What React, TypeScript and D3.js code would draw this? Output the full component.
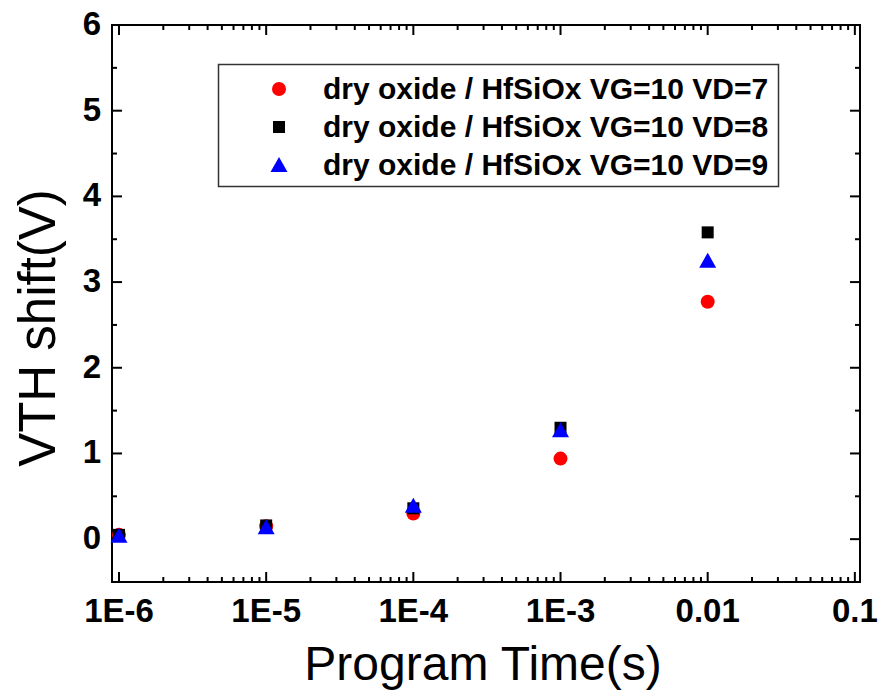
import React from "react";
import * as d3 from "d3";

const times = [1e-6, 1e-5, 1e-4, 1e-3, 1e-2];
const vd7 = [0.05, 0.15, 0.3, 0.94, 2.77];
const vd8 = [0.05, 0.16, 0.36, 1.3, 3.58];
const vd9 = [0.04, 0.14, 0.39, 1.27, 3.25];
const seriesNames = [
  "dry oxide / HfSiOx VG=10 VD=7",
  "dry oxide / HfSiOx VG=10 VD=8",
  "dry oxide / HfSiOx VG=10 VD=9",
];
const xTickValues = [1e-6, 1e-5, 1e-4, 1e-3, 1e-2, 1e-1];
const xTickLabels = ["1E-6", "1E-5", "1E-4", "1E-3", "0.01", "0.1"];
const yTickValues = [0, 1, 2, 3, 4, 5, 6];

const W = 882;
const H = 698;
const L = 112, R = 860, T = 25, B = 582;

export default function App() {
  const x = d3.scaleLog().domain([Math.pow(10, -6.0476), Math.pow(10, -0.965)]).range([L, R]);
  const y = d3.scaleLinear().domain([-0.5, 6]).range([B, T]);

  const minorX: number[] = [];
  for (let e = -7; e <= 0; e++) {
    for (let m = 2; m <= 9; m++) {
      const v = m * Math.pow(10, e);
      if (x(v) > L + 0.5 && x(v) < R - 0.5) minorX.push(v);
    }
  }
  const minorY: number[] = [];
  for (let v = -0.5; v <= 6; v += 1) minorY.push(v);

  const font = "'Liberation Sans', Arial, sans-serif";
  const series = [
    { data: vd7, color: "#ff0000", shape: "circle" },
    { data: vd8, color: "#000000", shape: "square" },
    { data: vd9, color: "#0000ff", shape: "triangle" },
  ];

  const marker = (shape: string, color: string, cx: number, cy: number, key: string) => {
    if (shape === "circle") return <circle key={key} cx={cx} cy={cy} r={7} fill={color} />;
    if (shape === "square") return <rect key={key} x={cx - 6} y={cy - 6} width={12} height={12} fill={color} />;
    const d = `M${cx},${cy - 8}L${cx + 8.5},${cy + 7}L${cx - 8.5},${cy + 7}Z`;
    return <path key={key} d={d} fill={color} />;
  };

  const legendY = [89, 127, 165];

  return (
    <svg width={W} height={H} style={{ position: "absolute", left: 0, top: 0, background: "#fff" }}>
      {/* frame */}
      <rect x={L} y={T} width={R - L} height={B - T} fill="none" stroke="#000" strokeWidth={2} />
      {/* x ticks */}
      {xTickValues.map((v) => (
        <g key={"xt" + v}>
          <line x1={x(v)} x2={x(v)} y1={B} y2={B - 10} stroke="#000" strokeWidth={2} />
          <line x1={x(v)} x2={x(v)} y1={T} y2={T + 10} stroke="#000" strokeWidth={2} />
        </g>
      ))}
      {minorX.map((v, i) => (
        <g key={"xm" + i}>
          <line x1={x(v)} x2={x(v)} y1={B} y2={B - 5} stroke="#000" strokeWidth={2} />
          <line x1={x(v)} x2={x(v)} y1={T} y2={T + 5} stroke="#000" strokeWidth={2} />
        </g>
      ))}
      {xTickValues.map((v, i) => (
        <text key={"xl" + v} x={x(v)} y={622} textAnchor="middle" fontFamily={font} fontWeight="bold" fontSize={33}>
          {xTickLabels[i]}
        </text>
      ))}
      {/* y ticks */}
      {yTickValues.map((v) => (
        <g key={"yt" + v}>
          <line x1={L} x2={L + 10} y1={y(v)} y2={y(v)} stroke="#000" strokeWidth={2} />
          <line x1={R} x2={R - 10} y1={y(v)} y2={y(v)} stroke="#000" strokeWidth={2} />
          <text x={101} y={y(v) + 10} textAnchor="end" fontFamily={font} fontWeight="bold" fontSize={33}>
            {v}
          </text>
        </g>
      ))}
      {minorY.map((v, i) => (
        <g key={"ym" + i}>
          <line x1={L} x2={L + 5} y1={y(v)} y2={y(v)} stroke="#000" strokeWidth={2} />
          <line x1={R} x2={R - 5} y1={y(v)} y2={y(v)} stroke="#000" strokeWidth={2} />
        </g>
      ))}
      {/* axis titles */}
      <text x={483} y={680} textAnchor="middle" fontFamily={font} fontSize={48}>
        Program Time(s)
      </text>
      <text transform={`translate(55,328) rotate(-90)`} textAnchor="middle" fontFamily={font} fontSize={51}>
        VTH shift(V)
      </text>
      {/* data */}
      {series.map((s, si) =>
        s.data.map((v, i) => marker(s.shape, s.color, x(times[i]), y(v), `p${si}-${i}`))
      )}
      {/* legend */}
      <rect x={218.5} y={64.5} width={560} height={122} fill="#fff" stroke="#333" strokeWidth={1.5} />
      {series.map((s, si) => (
        <g key={"lg" + si}>
          {marker(s.shape, s.color, 279, legendY[si], "lm" + si)}
          <text x={323} y={legendY[si] + 10} fontFamily={font} fontWeight="bold" fontSize={30}>
            {seriesNames[si]}
          </text>
        </g>
      ))}
    </svg>
  );
}
